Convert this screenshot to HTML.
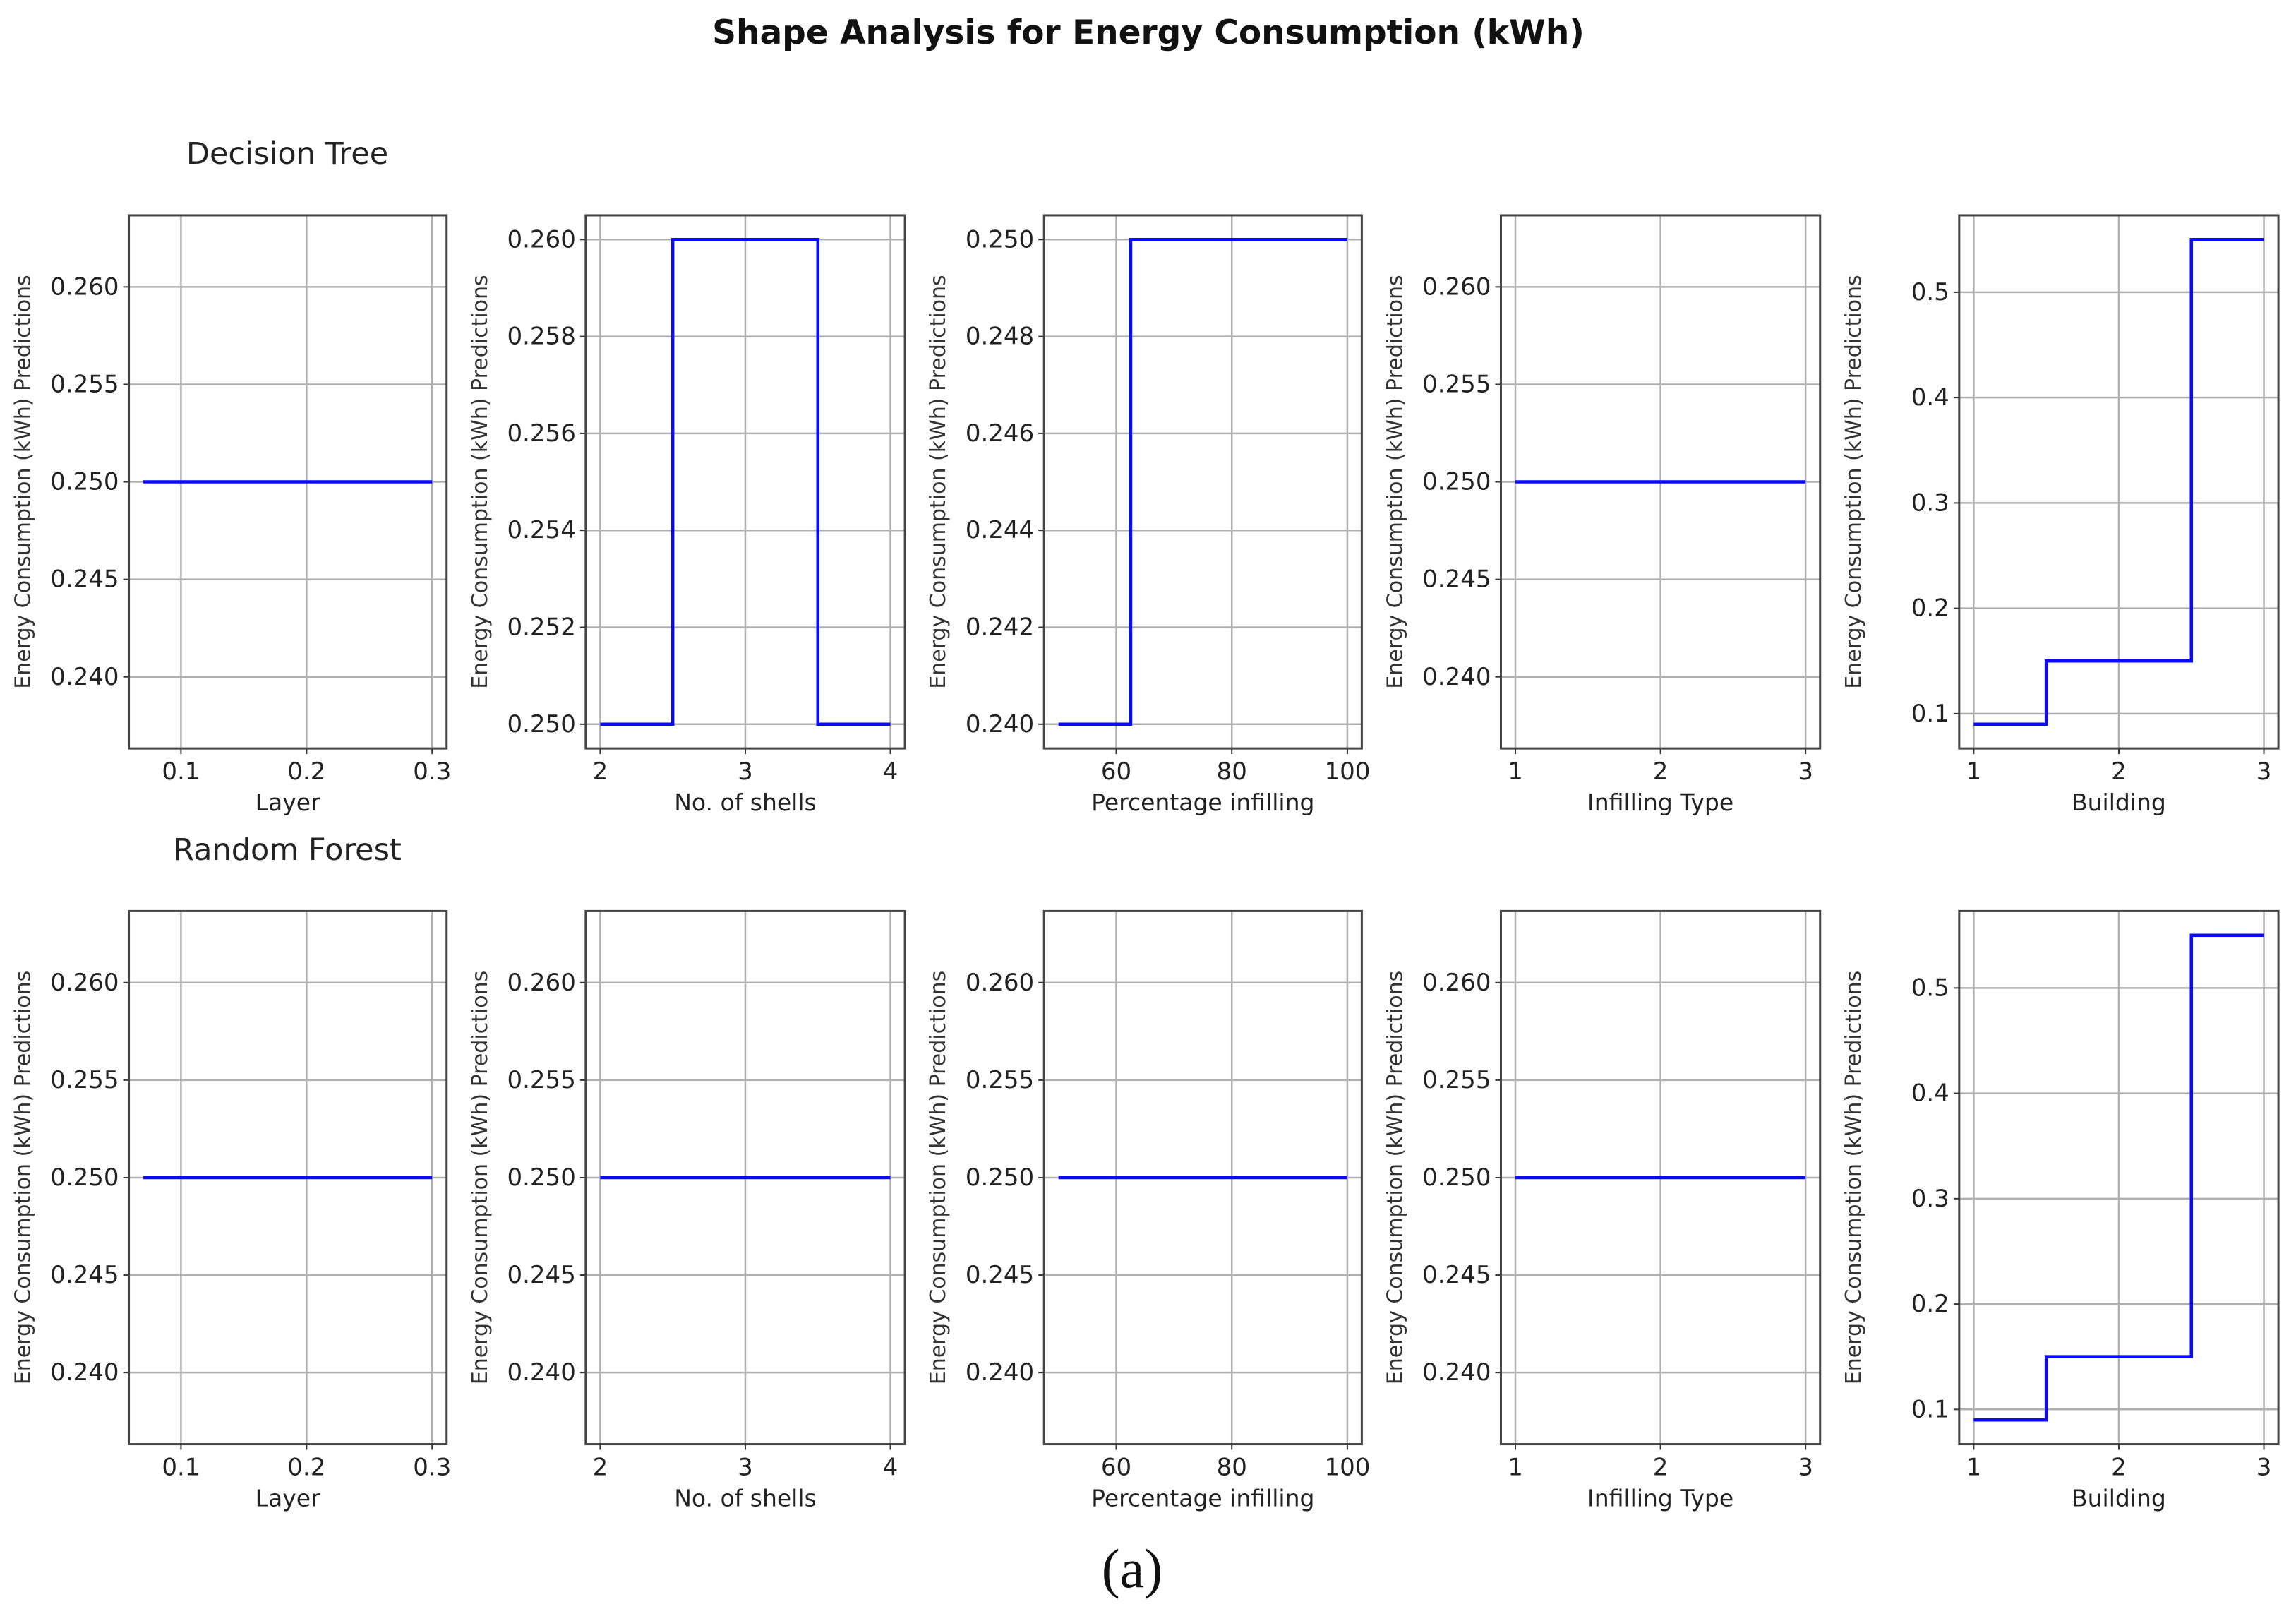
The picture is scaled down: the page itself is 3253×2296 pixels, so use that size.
<!DOCTYPE html>
<html><head><meta charset="utf-8"><style>
html,body{margin:0;padding:0;background:#fff;}
svg{display:block;}
text{font-family:"DejaVu Sans","Liberation Sans",sans-serif;}
</style></head><body>
<svg id="fig" width="3253" height="2296" viewBox="0 0 3253 2296" xmlns="http://www.w3.org/2000/svg">
<rect width="3253" height="2296" fill="#fff"/>
<text x="1627" y="62" text-anchor="middle" font-size="47" font-weight="bold" fill="#111">Shape Analysis for Energy Consumption (kWh)</text>
<text x="407" y="232" text-anchor="middle" font-size="43" fill="#222">Decision Tree</text>
<text x="407" y="1218" text-anchor="middle" font-size="43" fill="#222">Random Forest</text>
<text x="1604" y="2248" text-anchor="middle" font-size="78" style="font-family:'Liberation Serif',serif" fill="#111">(a)</text>
<g id="plots"></g>
</svg>
<script>
const S = 2.0746;
const featureNames = ["Layer","No. of shells","Percentage infilling","Infilling Type","Building"];
const xTicks = [[0.1,0.2,0.3],[2,3,4],[60,80,100],[1,2,3],[1,2,3]];
const xTickLabels = [["0.1","0.2","0.3"],["2","3","4"],["60","80","100"],["1","2","3"],["1","2","3"]];
const xDomains = [[0.0585,0.3115],[1.9,4.1],[47.5,102.5],[0.9,3.1],[0.9,3.1]];
const dtX = [[0.07,0.3],[2,2.5,3.5,4],[50,62.5,100],[1,3],[1,1.5,2.5,3]];
const dtY = [[0.25,0.25],[0.25,0.26,0.25,0.25],[0.24,0.25,0.25],[0.25,0.25],[0.09,0.15,0.55,0.55]];
const rfX = [[0.07,0.3],[2,4],[50,100],[1,3],[1,1.5,2.5,3]];
const rfY = [[0.25,0.25],[0.25,0.25],[0.25,0.25],[0.25,0.25],[0.09,0.15,0.55,0.55]];
const yTicksFlat = [0.24,0.245,0.25,0.255,0.26];
const yTickLabelsFlat = ["0.240","0.245","0.250","0.255","0.260"];
const yTicksP2 = [0.25,0.252,0.254,0.256,0.258,0.26];
const yTickLabelsP2 = ["0.250","0.252","0.254","0.256","0.258","0.260"];
const yTicksP3 = [0.24,0.242,0.244,0.246,0.248,0.25];
const yTickLabelsP3 = ["0.240","0.242","0.244","0.246","0.248","0.250"];
const yTicksB = [0.1,0.2,0.3,0.4,0.5];
const yTickLabelsB = ["0.1","0.2","0.3","0.4","0.5"];

const colL = [88,400,713,1025,1338], colR = [305,618,930,1243,1556];
const rowT = [147,622], rowB = [511,986];
const NS = "http://www.w3.org/2000/svg";
const root = document.getElementById('plots');
function mk(tag, attrs, parent){const e=document.createElementNS(NS,tag);for(const k in attrs)e.setAttribute(k,attrs[k]);parent.appendChild(e);return e;}

function drawPanel(r,c,xs,ys,yT,yTL,yDom){
  const L=colL[c]*S, R=colR[c]*S, T=rowT[r]*S, B=rowB[r]*S;
  const g=mk('g',{},root);
  
  
  const xd=xDomains[c];
  const sx=v=>L+(v-xd[0])/(xd[1]-xd[0])*(R-L);
  const sy=v=>B-(v-yDom[0])/(yDom[1]-yDom[0])*(B-T);
  xTicks[c].forEach((t,i)=>{
    const l=mk('line',{x1:sx(t),x2:sx(t),y1:T,y2:B,stroke:'#b0b0b0','stroke-width':2.5},g);
    
    
    mk('line',{x1:sx(t),x2:sx(t),y1:B,y2:B+8,stroke:'#333','stroke-width':2},g);
    const tx=mk('text',{x:sx(t),y:B+44,'text-anchor':'middle','font-size':34,fill:'#222'},g);
    tx.textContent=xTickLabels[c][i];
    
    
  });
  yT.forEach((t,i)=>{
    const l=mk('line',{x1:L,x2:R,y1:sy(t),y2:sy(t),stroke:'#b0b0b0','stroke-width':2.5},g);
    
    
    mk('line',{x1:L-8,x2:L,y1:sy(t),y2:sy(t),stroke:'#333','stroke-width':2},g);
    const tx=mk('text',{x:L-14,y:sy(t)+11,'text-anchor':'end','font-size':34,fill:'#222'},g);
    tx.textContent=yTL[i];
    
    
  });
  const sp=mk('rect',{x:L,y:T,width:R-L,height:B-T,fill:'none',stroke:'#444','stroke-width':3},g);
  
  
  let d='M'+sx(xs[0])+','+sy(ys[0]);
  for(let i=1;i<xs.length;i++){d+=' L'+sx(xs[i])+','+sy(ys[i-1])+' L'+sx(xs[i])+','+sy(ys[i]);}
  const p=mk('path',{d:d,fill:'none',stroke:'#0a0aff','stroke-width':4.5},g);
  
  
  const xl=mk('text',{x:(L+R)/2,y:B+88,'text-anchor':'middle','font-size':33,fill:'#222'},g);
  xl.textContent=featureNames[c];
  
  
  const yx=colL[c]*S-140, yy=(T+B)/2;
  const yl=mk('text',{x:yx,y:yy,'text-anchor':'middle','font-size':30,fill:'#333',transform:'rotate(-90 '+yx+' '+yy+')'},g);
  yl.textContent='Energy Consumption (kWh) Predictions';
  
  
}
const flatDom=[0.23633,0.26367], p2Dom=[0.2495,0.2605], p3Dom=[0.2395,0.2505], bDom=[0.067,0.573];
for(let c=0;c<5;c++){
  let yT,yTL,yD;
  if(c===4){yT=yTicksB;yTL=yTickLabelsB;yD=bDom;}
  else if(c===1){yT=yTicksP2;yTL=yTickLabelsP2;yD=p2Dom;}
  else if(c===2){yT=yTicksP3;yTL=yTickLabelsP3;yD=p3Dom;}
  else {yT=yTicksFlat;yTL=yTickLabelsFlat;yD=flatDom;}
  drawPanel(0,c,dtX[c],dtY[c],yT,yTL,yD);
  if(c===4) drawPanel(1,c,rfX[c],rfY[c],yTicksB,yTickLabelsB,bDom);
  else drawPanel(1,c,rfX[c],rfY[c],yTicksFlat,yTickLabelsFlat,flatDom);
}
</script>
</body></html>
